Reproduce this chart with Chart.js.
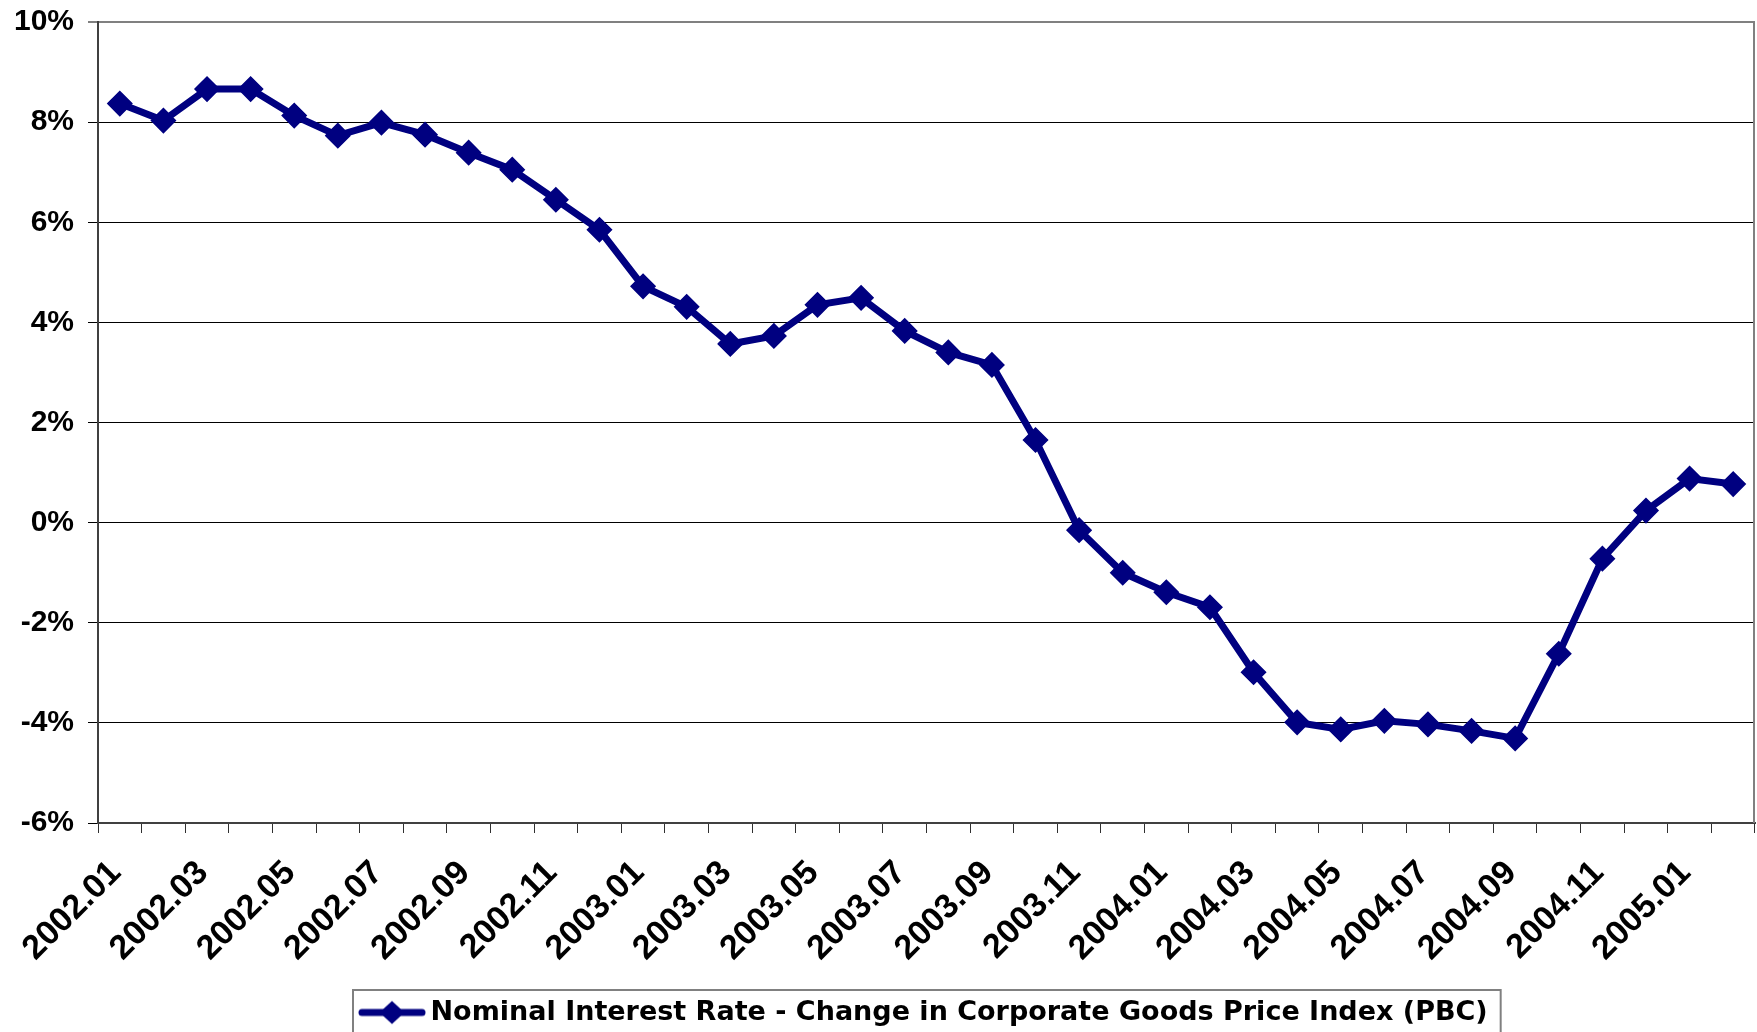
<!DOCTYPE html>
<html>
<head>
<meta charset="utf-8">
<script src="https://cdn.jsdelivr.net/npm/chart.js@4.4.1/dist/chart.umd.min.js"></script>
<style>
  html, body { margin: 0; padding: 0; background: #fff; }
  #wrap { width: 1757px; height: 1032px; }
</style>
</head>
<body>
<div id="wrap"><canvas id="myChart" width="1757" height="1032"></canvas></div>
<script>
const labels = [
  '2002.01', '2002.02', '2002.03', '2002.04', '2002.05', '2002.06',
  '2002.07', '2002.08', '2002.09', '2002.10', '2002.11', '2002.12',
  '2003.01', '2003.02', '2003.03', '2003.04', '2003.05', '2003.06',
  '2003.07', '2003.08', '2003.09', '2003.10', '2003.11', '2003.12',
  '2004.01', '2004.02', '2004.03', '2004.04', '2004.05', '2004.06',
  '2004.07', '2004.08', '2004.09', '2004.10', '2004.11', '2004.12',
  '2005.01', '2005.02'
];

// every other month gets a label
const shownLabels = [
  '2002.01', '2002.03', '2002.05', '2002.07', '2002.09', '2002.11',
  '2003.01', '2003.03', '2003.05', '2003.07', '2003.09', '2003.11',
  '2004.01', '2004.03', '2004.05', '2004.07', '2004.09', '2004.11',
  '2005.01'
];

const realRate = [
  8.37, 8.03, 8.66, 8.66, 8.13, 7.73, 7.99, 7.75, 7.39, 7.05, 6.45, 5.85,
  4.72, 4.31, 3.57, 3.73, 4.35, 4.49, 3.83, 3.40, 3.15, 1.65, -0.15, -1.00,
  -1.39, -1.69, -2.99, -3.99, -4.13, -3.96, -4.03, -4.16, -4.31, -2.62, -0.72, 0.24,
  0.88, 0.77
];

const yTickValues = [-6, -4, -2, 0, 2, 4, 6, 8, 10];

const seriesName = 'Nominal Interest Rate - Change in Corporate Goods Price Index (PBC)';
const navy = '#000080';

// legend symbol: line with a diamond on it, like the excel legend
function legendSymbol() {
  const c = document.createElement('canvas');
  c.width = 68;
  c.height = 26;
  const g = c.getContext('2d');
  g.strokeStyle = navy;
  g.lineWidth = 7;
  g.lineCap = 'round';
  g.beginPath();
  g.moveTo(4, 13);
  g.lineTo(64, 13);
  g.stroke();
  g.fillStyle = navy;
  g.beginPath();
  g.moveTo(34 - 12.5, 13);
  g.lineTo(34, 13 - 11.5);
  g.lineTo(34 + 12.5, 13);
  g.lineTo(34, 13 + 11.5);
  g.closePath();
  g.fill();
  return c;
}
const symbol = legendSymbol();

const noPad = () => ({ left: 0, top: 0, right: 0, bottom: 0 });

const frame = {
  id: 'frame',
  afterLayout(chart) {
    const lg = chart.legend;
    const hb = lg.legendHitBoxes[0];
    if (!hb) return;
    const cur = (lg.left + lg.right - hb.width) / 2;
    const dx = 367 - cur;
    lg.left += dx;
    lg.right += dx;
    lg.top += 4;
    lg.bottom += 4;
  },
  beforeDatasetsDraw(chart) {
    const a = chart.chartArea;
    const ctx = chart.ctx;
    ctx.save();
    ctx.strokeStyle = '#808080';
    ctx.lineWidth = 2;
    ctx.beginPath();
    ctx.moveTo(a.right - 1, a.top);
    ctx.lineTo(a.right - 1, a.bottom);
    ctx.stroke();
    ctx.restore();
  },
  afterDraw(chart) {
    const hb = chart.legend.legendHitBoxes[0];
    if (!hb) return;
    const ctx = chart.ctx;
    ctx.save();
    ctx.strokeStyle = '#808080';
    ctx.lineWidth = 2;
    ctx.strokeRect(hb.left - 14, chart.legend.top - 7, hb.width + 27, 80);
    ctx.restore();
  }
};

Chart.defaults.font.family = '"Liberation Sans", Arial, sans-serif';
Chart.defaults.font.weight = 'bold';
Chart.defaults.color = '#000';

const data = {
  labels: labels,
  datasets: [{
    label: seriesName,
    data: realRate,
    borderColor: navy,
    backgroundColor: navy,
    borderWidth: 7,
    pointStyle: 'rectRot',
    pointRadius: 12,
    pointBorderWidth: 1.5,
    pointBackgroundColor: navy,
    pointBorderColor: navy,
    tension: 0
  }]
};

const config = {
  type: 'line',
  data: data,
  plugins: [frame],
  options: {
    responsive: false,
    animation: false,
    devicePixelRatio: 1,
    layout: { autoPadding: false, padding: { top: 22, right: 2, left: 0, bottom: 0 } },
    plugins: {
      tooltip: { enabled: false },
      legend: {
        position: 'bottom',
        labels: {
          usePointStyle: true,
          pointStyleWidth: 50,
          padding: 2,
          color: '#000',
          font: { family: '"DejaVu Sans", sans-serif', size: 27, weight: 'bold' },
          generateLabels: chart => [{
            text: seriesName,
            pointStyle: symbol,
            fillStyle: navy,
            strokeStyle: navy,
            lineWidth: 0,
            datasetIndex: 0
          }]
        }
      }
    },
    scales: {
      x: {
        offset: true,
        afterFit: s => {
          s.height = 170;
          s.paddingLeft = 0;
          s.paddingRight = 0;
          s.getPadding = noPad;
        },
        grid: {
          offset: true,
          drawOnChartArea: false,
          drawTicks: true,
          tickLength: 10,
          color: '#303030',
          lineWidth: 1
        },
        border: { display: true, color: '#404040', width: 2 },
        ticks: {
          autoSkip: false,
          maxRotation: 45,
          minRotation: 45,
          padding: 20,
          labelOffset: -4,
          font: { size: 34, weight: 'bold' },
          callback: (v, i) => shownLabels.includes(labels[i]) ? labels[i] : ''
        }
      },
      y: {
        min: -6,
        max: 10,
        afterFit: s => {
          s.width = 98;
          s.paddingTop = 0;
          s.paddingBottom = 0;
          s.getPadding = noPad;
        },
        afterBuildTicks: s => { s.ticks = yTickValues.map(v => ({ value: v })); },
        grid: {
          color: c => c.tick && c.tick.value === 10 ? '#808080' : '#000',
          lineWidth: c => c.tick && c.tick.value === 10 ? 2 : 1,
          tickLength: 10
        },
        border: { display: true, color: '#404040', width: 2 },
        ticks: {
          padding: 14,
          font: { size: 30, weight: 'bold' },
          callback: v => v + '%'
        }
      }
    }
  }
};

const myChart = new Chart(
  document.getElementById('myChart'),
  config
);
</script>
</body>
</html>
